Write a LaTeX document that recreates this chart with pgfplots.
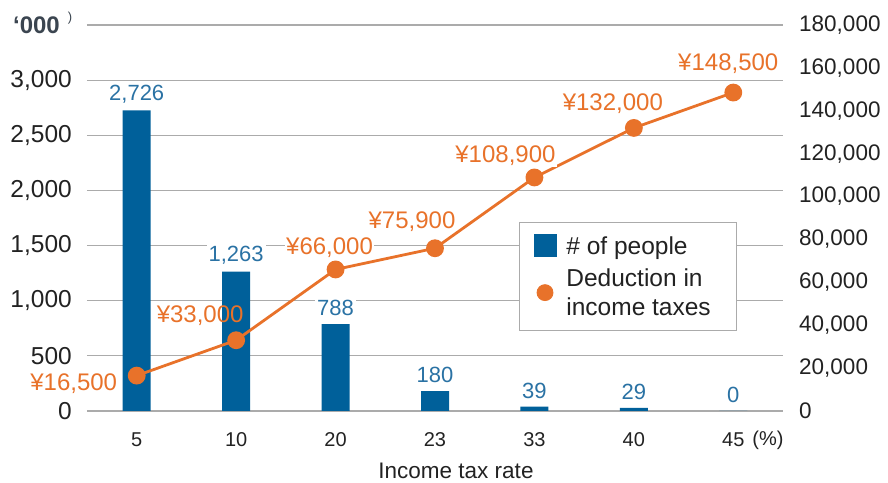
\documentclass[border=0pt]{standalone}
\usepackage{pgfplots}
\pgfplotsset{compat=1.18}
\usepackage{fontspec}
\setmainfont{Liberation Sans}
\definecolor{barblue}{HTML}{00609A}
\definecolor{lblblue}{HTML}{2A72A4}
\definecolor{lineorange}{HTML}{E8722A}
\definecolor{gridgray}{HTML}{ABABAB}
\definecolor{txt}{HTML}{222222}
\definecolor{slate}{HTML}{3B4550}
\pgfplotstableread{
x people
0 2726
1 1263
2 788
3 180
4 39
5 29
6 0
}\peopletable
\pgfplotstableread{
x ded dx dy fo
0 16500 -63 -8 1
1 33000 -36 25 0
2 66000 -6 22 1
3 75900 -23 27 0
4 108900 -29 22 1
5 132000 -21 24 1
6 148500 -5 29 1
}\dedtable
\begin{document}
\begin{tikzpicture}[font=\fontsize{20}{24}\selectfont]
\begin{axis}[
  width=696pt, height=386pt, scale only axis,
  xmin=-0.5, xmax=6.5, ymin=0, ymax=3500,
  axis line style={draw=none}, tick style={draw=none},
  ytick={0,500,...,3500},
  yticklabels={0,500,{1,000},{1,500},{2,000},{2,500},{3,000},},
  ymajorgrids, grid style={gridgray, line width=1.2pt},
  xtick={0,...,6},
  xticklabels={5,10,20,23,33,40,45},
  ticklabel style={text=txt, inner sep=0pt},
  yticklabel style={anchor=east, xshift=-15pt, font=\fontsize{24.5}{28}\selectfont},
  xticklabel style={anchor=center, yshift=-29pt, font=\fontsize{20}{24}\selectfont},
  xlabel={Income tax rate},
  xlabel style={text=txt, at={(axis description cs:0.5,0)}, anchor=center, yshift=-60pt, xshift=21pt,
    inner sep=0pt, font=\fontsize{22.5}{24}\selectfont},
  /pgf/number format/.cd, fixed, precision=0, 1000 sep={,}, assume math mode=true, /pgfplots/.cd,
  clip=false,
]
\addplot[ybar, bar width=28pt, fill=barblue, draw=none,
  nodes near coords, nodes near coords style={text=lblblue, font=\fontsize{22}{24}\selectfont,
    inner sep=2pt, fill=white, anchor=center, yshift=16pt}]
  table[x=x, y=people] {\peopletable};
\node[anchor=west, text=txt, inner sep=0pt] at (axis cs:6,0) [xshift=19pt, yshift=-29pt] {(\%)};
\node[anchor=east, text=slate, inner sep=0pt, font=\fontsize{24}{26}\selectfont\bfseries] at (rel axis cs:0,1) [xshift=-27pt] {‘000};
\node[text=slate, inner sep=0pt, font=\fontsize{13}{14}\selectfont] at (rel axis cs:0,1) [xshift=-17pt, yshift=7pt] {)};
\end{axis}
\begin{axis}[
  width=696pt, height=386pt, scale only axis,
  xmin=-0.5, xmax=6.5, ymin=0, ymax=180000,
  axis line style={draw=none}, tick style={draw=none},
  axis y line*=right, axis x line=none,
  ytick={0,20000,...,180000}, scaled y ticks=false,
  yticklabel style={text=txt, anchor=west, inner sep=0pt, xshift=16pt, font=\fontsize{22.5}{26}\selectfont},
  /pgf/number format/.cd, fixed, precision=0, 1000 sep={,}, assume math mode=true, /pgfplots/.cd,
  legend style={at={(rel axis cs:0.621,0.49)}, anchor=north west, draw=gridgray, fill=white,
    line width=0.8pt, text=txt, cells={anchor=west, align=left},
    font=\fontsize{24.5}{29}\selectfont,
    /tikz/every odd column/.style={column sep=8pt},
    inner xsep=14pt, inner ysep=12pt, row sep=9pt},
  clip=false,
]
\addlegendimage{legend image code/.code={\fill[barblue] (0pt,-11pt) rectangle (22pt,11pt);}}
\addlegendentry{\# of people}
\addlegendimage{legend image code/.code={\fill[lineorange] (11pt,0pt) circle (8pt);}}
\addlegendentry{Deduction in\\income taxes\hspace*{10pt}}
\addplot[lineorange, line width=2.8pt, mark=*, mark size=7.5pt,
  mark options={fill=lineorange, draw=lineorange},
  visualization depends on={\thisrow{dx} \as \mydx},
  visualization depends on={\thisrow{dy} \as \mydy},
  visualization depends on={\thisrow{fo} \as \myfo},
  nodes near coords={¥\pgfmathprintnumber{\pgfplotspointmeta}},
  nodes near coords style={text=lineorange, anchor=center, inner sep=1.5pt,
    fill=white, fill opacity=\myfo, text opacity=1,
    font=\fontsize{24}{26}\selectfont, xshift=\mydx pt, yshift=\mydy pt},
  forget plot]
  table[x=x, y=ded] {\dedtable};
\path ([xshift=-87pt,yshift=-72pt]rel axis cs:0,0) rectangle ([xshift=105pt,yshift=25pt]rel axis cs:1,1);
\end{axis}
\end{tikzpicture}
\end{document}
